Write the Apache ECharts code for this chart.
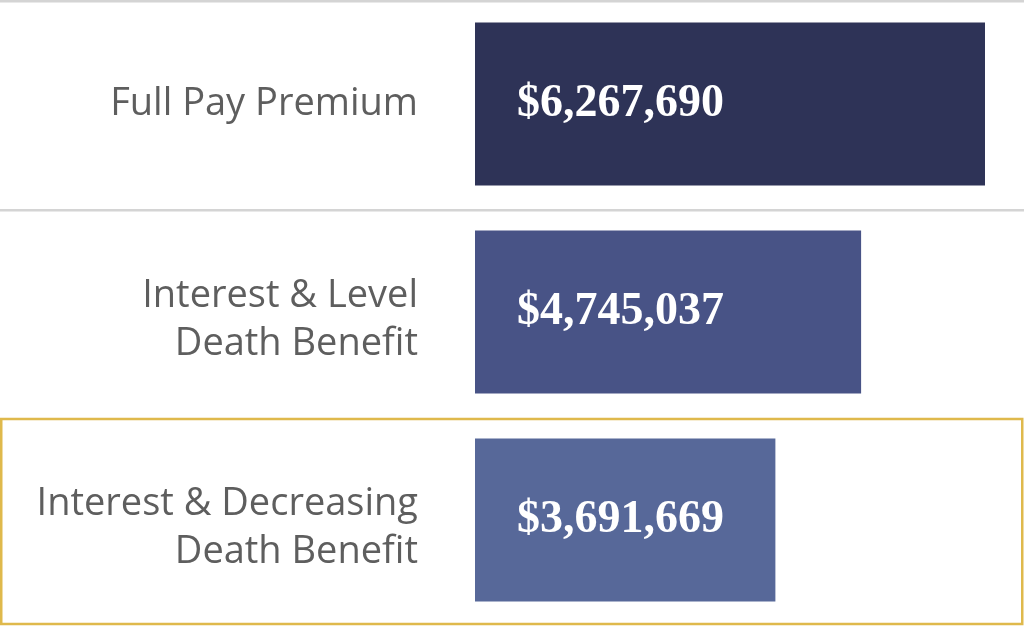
<!DOCTYPE html>
<html><head><meta charset="utf-8">
<script src="https://cdn.jsdelivr.net/npm/echarts@6/dist/echarts.min.js"></script>
<style>html,body{margin:0;padding:0;background:#fff}#c{width:1024px;height:626px}</style>
</head><body><div id="c"></div>
<script>
const categories = ['Full Pay Premium', 'Interest & Level\nDeath Benefit', 'Interest & Decreasing\nDeath Benefit'];
const values = [6267690, 4745037, 3691669];
const barColors = ['#2e3357', '#485386', '#576899'];

const chart = echarts.init(document.getElementById('c'));
chart.setOption({
  animation: false,
  grid: { left: 475, right: 39, top: 0, bottom: 2 },
  xAxis: { type: 'value', min: 0, max: 'dataMax', show: false },
  yAxis: {
    type: 'category', data: categories, inverse: true,
    axisLine: { show: false }, axisTick: { show: false },
    axisLabel: {
      margin: 57, color: '#5e5e5e', fontFamily: 'Open Sans', fontSize: 38,
      lineHeight: 48, align: 'right',
      formatter: v => v.indexOf('\n') >= 0
        ? '{s| }\n' + v.split('\n').map(l => '{t|' + l + '}').join('\n')
        : '{t|' + v + '}',
      rich: {
        s: { lineHeight: 16, fontSize: 10 },
        t: { fontFamily: 'Open Sans', fontSize: 38, lineHeight: 48, color: '#5e5e5e' }
      }
    }
  },
  series: [{
    type: 'bar', barWidth: 163,
    data: values.map((v, i) => ({ value: v, itemStyle: { color: barColors[i] } })),
    label: {
      show: true, position: 'insideLeft', distance: 42,
      color: '#fff', fontFamily: 'Liberation Serif', fontWeight: 'bold', fontSize: 46,
      formatter: p => '$' + p.value.toLocaleString('en-US')
    }
  }],
  graphic: [
    { type: 'rect', shape: { x: 0, y: 0, width: 1024, height: 2.5 }, style: { fill: '#d4d4d4' } },
    { type: 'rect', shape: { x: 0, y: 209, width: 1024, height: 2.5 }, style: { fill: '#d4d4d4' } },
    { type: 'rect', shape: { x: 1.25, y: 419, width: 1021, height: 205 }, style: { fill: 'none', stroke: '#dfb94c', lineWidth: 2.5 } }
  ]
});
</script></body></html>
